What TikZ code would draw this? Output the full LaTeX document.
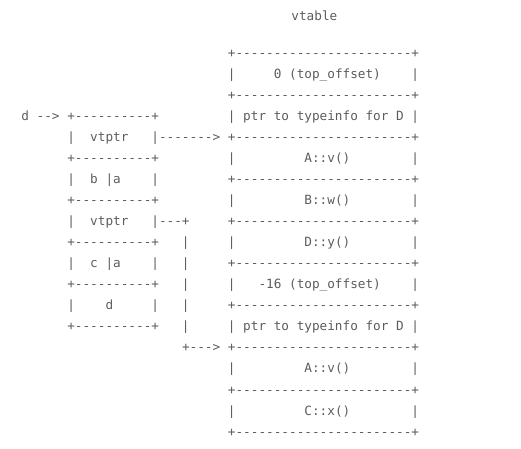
\documentclass[tikz,border=0pt]{standalone}
\usepackage{fontspec}
\setmonofont{DejaVu Sans Mono}
\usepackage{tikz}

\definecolor{asciigray}{HTML}{5c5c5c}
\newcommand{\tabsep}{+-----------------------+}
\newcommand{\boxsep}{+----------+}
\tikzset{
  ascii/.style={anchor=base west, inner sep=0pt, text=asciigray,
    font=\ttfamily\fontsize{12.7}{15}\selectfont}
}

\begin{document}
\begin{tikzpicture}[x=7.65pt, y=-21.05pt]
\useasboundingbox (-2.77,-1.717) rectangle (65.33,19.61);

\node[ascii] (title) at (35.3,-0.72) {vtable};

\node[ascii] (tab1) at (27,1) {\tabsep};
\node[ascii] (tab2) at (27,2) {|~~~~~0~(top\_offset)~~~~|};
\node[ascii] (tab3) at (27,3) {\tabsep};
\node[ascii] (tab4) at (27,4) {|~ptr~to~typeinfo~for~D~|};
\node[ascii] (tab5) at (27,5) {\tabsep};
\node[ascii] (tab6) at (27,6) {|~~~~~~~~~A::v()~~~~~~~~|};
\node[ascii] (tab7) at (27,7) {\tabsep};
\node[ascii] (tab8) at (27,8) {|~~~~~~~~~B::w()~~~~~~~~|};
\node[ascii] (tab9) at (27,9) {\tabsep};
\node[ascii] (tab10) at (27,10) {|~~~~~~~~~D::y()~~~~~~~~|};
\node[ascii] (tab11) at (27,11) {\tabsep};
\node[ascii] (tab12) at (27,12) {|~~~-16~(top\_offset)~~~~|};
\node[ascii] (tab13) at (27,13) {\tabsep};
\node[ascii] (tab14) at (27,14) {|~ptr~to~typeinfo~for~D~|};
\node[ascii] (tab15) at (27,15) {\tabsep};
\node[ascii] (tab16) at (27,16) {|~~~~~~~~~A::v()~~~~~~~~|};
\node[ascii] (tab17) at (27,17) {\tabsep};
\node[ascii] (tab18) at (27,18) {|~~~~~~~~~C::x()~~~~~~~~|};
\node[ascii] (tab19) at (27,19) {\tabsep};

\node[ascii] (obj4) at (0,4) {d~-->~\boxsep};
\node[ascii] (obj5) at (6,5) {|~~vtptr~~~|------->};
\node[ascii] (obj6) at (6,6) {\boxsep};
\node[ascii] (obj7) at (6,7) {|~~b~|a~~~~|};
\node[ascii] (obj8) at (6,8) {\boxsep};
\node[ascii] (obj9) at (6,9) {|~~vtptr~~~|---+};
\node[ascii] (obj10) at (6,10) {\boxsep~~~|};
\node[ascii] (obj11) at (6,11) {|~~c~|a~~~~|~~~|};
\node[ascii] (obj12) at (6,12) {\boxsep~~~|};
\node[ascii] (obj13) at (6,13) {|~~~~d~~~~~|~~~|};
\node[ascii] (obj14) at (6,14) {\boxsep~~~|};
\node[ascii] (obj15) at (21,15) {+--->};
\end{tikzpicture}
\end{document}
